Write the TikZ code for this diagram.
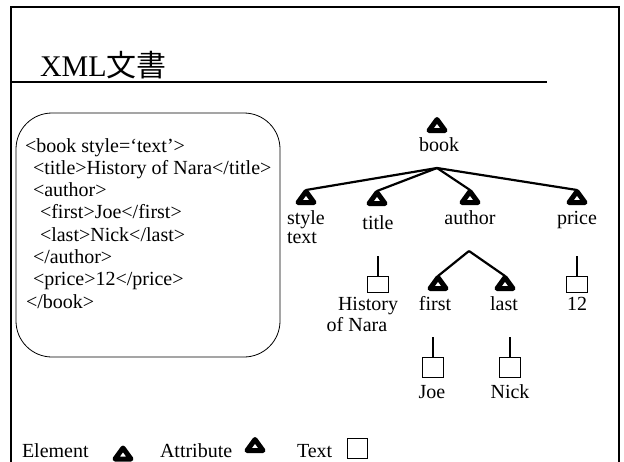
\documentclass[tikz,border=0pt]{standalone}
\usepackage{fontspec}
\setmainfont{Liberation Serif}
\newfontfamily\cjkfont{Noto Sans CJK JP}
\tikzset{
  every node/.style={inner sep=0pt, outer sep=0pt, font=\fontsize{20}{22}\selectfont},
  tri/.pic={\draw[line width=5pt, line join=round, fill=white] (-8,5.5)--(0,-5.5)--(8,5.5)--cycle;},
  conn/.style={line width=2.2pt},
  stem/.style={line width=2pt},
  tbox/.style={draw, line width=0.8pt, minimum width=21pt, minimum height=#1},
  tbox/.default=16pt,
  lbl/.style={anchor=base},
  code/.style={anchor=base west}
}
\begin{document}
\begin{tikzpicture}[x=1pt,y=-1pt]
\useasboundingbox (0,0) rectangle (624,461);
% frame
\draw[line width=2.8pt] (11,470) -- (11,7) -- (619,7) -- (619,470);
\draw[line width=2.8pt] (11,82) -- (547,82);
\node[anchor=base west, font=\fontsize{30}{32}\selectfont] (title) at (40,76) {XML{\cjkfont 文書}};
% code box
\draw[line width=0.8pt, rounded corners=36pt] (16,113) rectangle (280,357);
\node[code] (c1) at (25,152.0) {<book style=‘text’>};
\node[code] (c2) at (33,174.3) {<title>History of Nara</title>};
\node[code] (c3) at (33,196.6) {<author>};
\node[code] (c4) at (40,218.9) {<first>Joe</first>};
\node[code] (c5) at (40,241.2) {<last>Nick</last>};
\node[code] (c6) at (33,263.5) {</author>};
\node[code] (c7) at (33,285.8) {<price>12</price>};
\node[code] (c8) at (26,308.1) {</book>};
% tree: book
\pic at (437,125) {tri};
\node[lbl] (book) at (439,151) {book};
\coordinate (bookJ) at (437,168);
% children
\pic at (306,197) {tri}; \coordinate (styleA) at (306,190);
\pic at (377,198) {tri}; \coordinate (titleA) at (377,191);
\pic at (470,197) {tri}; \coordinate (authorA) at (470,190);
\pic at (577,197) {tri}; \coordinate (priceA) at (577,190);
\draw[conn] (bookJ) -- (styleA);
\draw[conn] (bookJ) -- (titleA);
\draw[conn] (bookJ) -- (authorA);
\draw[conn] (bookJ) -- (priceA);
\node[anchor=base west] (style) at (287,224) {style};
\node[anchor=base west] (styletext) at (287,243) {text};
\node[lbl] (titleL) at (378,229) {title};
\node[lbl] (authorL) at (470,224) {author};
\node[lbl] (priceL) at (577,224) {price};
% author children
\coordinate (authorJ) at (469,251);
\pic at (438,283) {tri}; \coordinate (firstA) at (438,276);
\pic at (505,283) {tri}; \coordinate (lastA) at (505,276);
\draw[conn] (authorJ) -- (firstA);
\draw[conn] (authorJ) -- (lastA);
\node[lbl] (firstL) at (435,310) {first};
\node[lbl] (lastL) at (504,310) {last};
% text leaves
\node[tbox] (histB) at (377.5,284) {};
\coordinate (histS) at (377.5,256);
\draw[stem] (histS) -- (histB.north);
\node[lbl] (hist1) at (368,310) {History};
\node[lbl] (hist2) at (357,331) {of Nara};
\node[tbox] (priceB) at (576.5,284) {};
\coordinate (priceS) at (576.5,256);
\draw[stem] (priceS) -- (priceB.north);
\node[lbl] (twelve) at (577,310) {12};
\node[tbox=20pt] (joeB) at (432.5,367) {};
\coordinate (joeS) at (432.5,337);
\draw[stem] (joeS) -- (joeB.north);
\node[lbl] (joe) at (432,398) {Joe};
\node[tbox=20pt] (nickB) at (510,367) {};
\coordinate (nickS) at (510,337);
\draw[stem] (nickS) -- (nickB.north);
\node[lbl] (nick) at (510,398) {Nick};
% legend
\node[anchor=base west] (legE) at (22,457) {Element};
\pic at (123,453.5) {tri};
\node[anchor=base west] (legA) at (160,457) {Attribute};
\pic at (255,445) {tri};
\node[anchor=base west] (legT) at (297,457) {Text};
\node[draw, line width=0.8pt, minimum width=20pt, minimum height=20pt] (legB) at (357,448) {};
\end{tikzpicture}
\end{document}
